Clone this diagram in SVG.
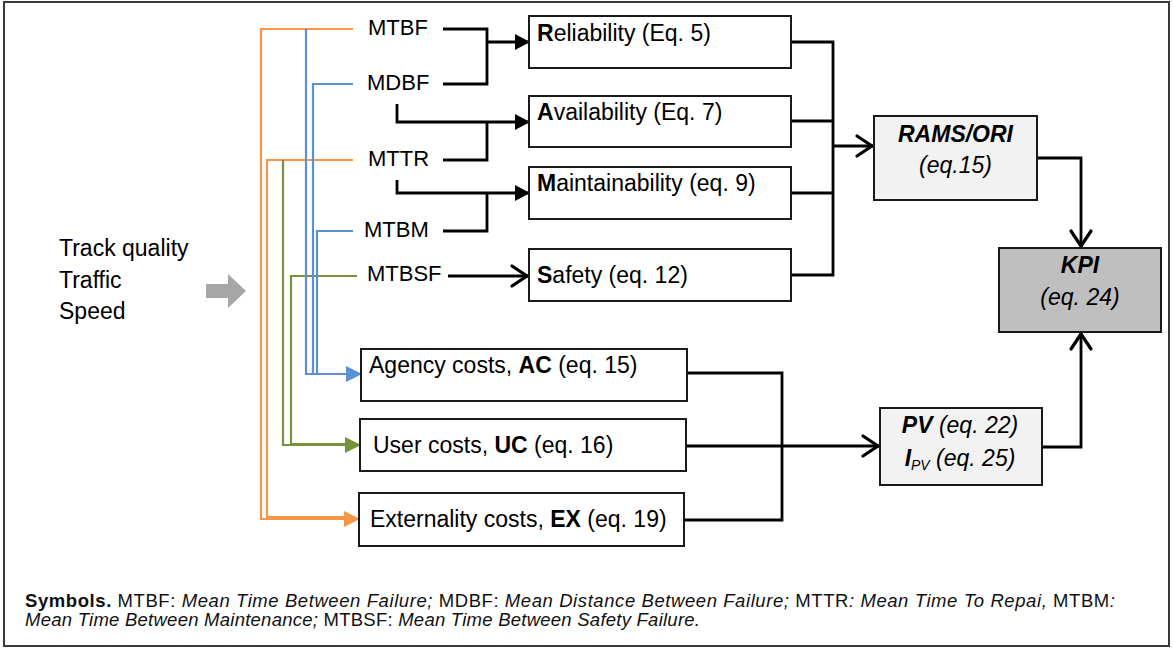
<svg xmlns="http://www.w3.org/2000/svg" width="1173" height="648" viewBox="0 0 1173 648">
<style>
text{font-family:"Liberation Sans",Arial,sans-serif;fill:#000}
.lbl{font-size:23px}
.sym{font-size:22px}
.cap{font-size:18.5px;fill:#111}
.box{fill:#fff;stroke:#1a1a1a;stroke-width:2}
.lt{fill:#f2f2f2;stroke:#1a1a1a;stroke-width:2}
.dk{fill:#bfbfbf;stroke:#1a1a1a;stroke-width:2}
.blk{fill:none;stroke:#000;stroke-width:2.8}
.or{fill:none;stroke:#f79646;stroke-width:2.2}
.bl{fill:none;stroke:#5b8fd6;stroke-width:2.2}
.gr{fill:none;stroke:#77933c;stroke-width:2.2}
.b{font-weight:bold}
.i{font-style:italic}
</style>
<defs>
<marker id="af" markerUnits="userSpaceOnUse" markerWidth="15" markerHeight="16" viewBox="0 0 15 16" refX="14" refY="8" orient="auto"><path d="M0,0 L15,8 L0,16 Z" fill="#000"/></marker>
<marker id="ao" markerUnits="userSpaceOnUse" markerWidth="22" markerHeight="26" viewBox="0 0 22 26" refX="19" refY="13" orient="auto"><path d="M3,3 L18,13 L3,23" fill="none" stroke="#000" stroke-width="3.2" stroke-linecap="round" stroke-linejoin="miter"/></marker>
<marker id="aor" markerUnits="userSpaceOnUse" markerWidth="16" markerHeight="16" viewBox="0 0 16 16" refX="15" refY="8" orient="auto"><path d="M0,0 L16,8 L0,16 Z" fill="#f79646"/></marker>
<marker id="abl" markerUnits="userSpaceOnUse" markerWidth="16" markerHeight="16" viewBox="0 0 16 16" refX="15" refY="8" orient="auto"><path d="M0,0 L16,8 L0,16 Z" fill="#5b8fd6"/></marker>
<marker id="agr" markerUnits="userSpaceOnUse" markerWidth="16" markerHeight="16" viewBox="0 0 16 16" refX="15" refY="8" orient="auto"><path d="M0,0 L16,8 L0,16 Z" fill="#77933c"/></marker>
</defs>
<rect x="4" y="2" width="1165" height="644" fill="#fff" stroke="#3a3a3a" stroke-width="2"/>

<g id="connectors">
<path class="or" d="M353,29 H261 V519 H359" marker-end="url(#aor)"/>
<path class="or" d="M353,160 H267 V517 H345"/>
<path class="gr" d="M283,160 V445 H360" marker-end="url(#agr)"/>
<path class="gr" d="M357,276 H291 V444 H345"/>
<path class="bl" d="M306,29 V374 H361" marker-end="url(#abl)"/>
<path class="bl" d="M353,84 H313 V374"/>
<path class="bl" d="M353,231 H317 V374"/>
<path class="blk" d="M443,29 H487 V84 H443"/>
<path class="blk" d="M487,42 H529" marker-end="url(#af)"/>
<path class="blk" d="M397,104 V122 H529" marker-end="url(#af)"/>
<path class="blk" d="M443,160 H487 V122"/>
<path class="blk" d="M397,180 V193 H529" marker-end="url(#af)"/>
<path class="blk" d="M443,231 H487 V193"/>
<path class="blk" d="M448,276 H528" marker-end="url(#ao)"/>
<path class="blk" d="M791,42 H833 V275 H791"/>
<path class="blk" d="M791,121 H833"/>
<path class="blk" d="M791,193 H833"/>
<path class="blk" d="M833,146 H873" marker-end="url(#ao)"/>
<path class="blk" d="M1037,158 H1081 V247" marker-end="url(#ao)"/>
<path class="blk" d="M686,373 H782 V520 H684"/>
<path class="blk" d="M686,446 H879" marker-end="url(#ao)"/>
<path class="blk" d="M1042,447 H1081 V333" marker-end="url(#ao)"/>
</g>

<g id="inputs">
<text class="lbl" x="59" y="256">Track quality</text>
<text class="lbl" x="59" y="288">Traffic</text>
<text class="lbl" x="59" y="319">Speed</text>
<polygon points="206,284 228,284 228,274 246,291 228,308 228,298 206,298" fill="#a6a6a6"/>
</g>

<g id="mtbf"><text class="sym" x="368" y="35">MTBF</text></g>
<g id="mdbf"><text class="sym" x="367" y="90">MDBF</text></g>
<g id="mttr"><text class="sym" x="368" y="166">MTTR</text></g>
<g id="mtbm"><text class="sym" x="364" y="237">MTBM</text></g>
<g id="mtbsf"><text class="sym" x="367" y="281">MTBSF</text></g>

<g id="reliability"><rect class="box" x="529" y="16" width="262" height="52"/><text class="lbl" x="537" y="41"><tspan class="b">R</tspan>eliability (Eq. 5)</text></g>
<g id="availability"><rect class="box" x="529" y="96" width="262" height="51"/><text class="lbl" x="537" y="120"><tspan class="b">A</tspan>vailability (Eq. 7)</text></g>
<g id="maintainability"><rect class="box" x="529" y="167" width="262" height="52"/><text class="lbl" x="537" y="191"><tspan class="b">M</tspan>aintainability (eq. 9)</text></g>
<g id="safety"><rect class="box" x="529" y="249" width="262" height="52"/><text class="lbl" x="537" y="283"><tspan class="b">S</tspan>afety (eq. 12)</text></g>

<g id="agency"><rect class="box" x="361" y="349" width="326" height="52"/><text class="lbl" x="369" y="373">Agency costs, <tspan class="b">AC</tspan> (eq. 15)</text></g>
<g id="user"><rect class="box" x="360" y="419" width="326" height="52"/><text class="lbl" x="373" y="453">User costs, <tspan class="b">UC</tspan> (eq. 16)</text></g>
<g id="externality"><rect class="box" x="359" y="493" width="325" height="53"/><text class="lbl" x="370" y="527">Externality costs, <tspan class="b">EX</tspan> (eq. 19)</text></g>

<g id="rams"><rect class="lt" x="874" y="116" width="163" height="84"/><text class="lbl b i" x="955.5" y="142" text-anchor="middle">RAMS/ORI</text><text class="lbl i" x="955.5" y="173" text-anchor="middle">(eq.15)</text></g>
<g id="kpi"><rect class="dk" x="999" y="248" width="162" height="84"/><text class="lbl b i" x="1080" y="273" text-anchor="middle">KPI</text><text class="lbl i" x="1080" y="305" text-anchor="middle">(eq. 24)</text></g>
<g id="pv"><rect class="lt" x="880" y="408" width="162" height="77"/><text class="lbl i" x="960" y="433" text-anchor="middle"><tspan class="b">PV</tspan> (eq. 22)</text><text class="lbl i" x="960" y="466" text-anchor="middle"><tspan class="b">I</tspan><tspan font-size="14" dy="4">PV</tspan><tspan dy="-4"> (eq. 25)</tspan></text></g>

<g id="caption">
<text class="cap" x="25" y="607" textLength="1090" lengthAdjust="spacing"><tspan class="b">Symbols.</tspan> MTBF: <tspan class="i">Mean Time Between Failure;</tspan> MDBF: <tspan class="i">Mean Distance Between Failure;</tspan> MTTR<tspan class="i">: Mean Time To Repai,</tspan> MTBM<tspan class="i">:</tspan></text>
<text class="cap" x="25" y="626" textLength="675" lengthAdjust="spacing"><tspan class="i">Mean Time Between Maintenance;</tspan> MTBSF: <tspan class="i">Mean Time Between Safety Failure.</tspan></text>
</g>
</svg>
